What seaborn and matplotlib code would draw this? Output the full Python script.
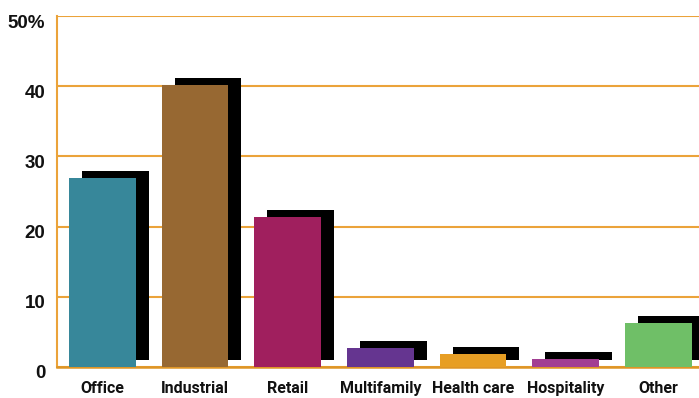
import matplotlib
matplotlib.use("Agg")
import matplotlib.pyplot as plt
import matplotlib.patheffects as pe
from matplotlib.transforms import ScaledTranslation
import pandas as pd
import seaborn as sns

# Share of transaction volume by property type (%)
categories = ["Office", "Industrial", "Retail", "Multifamily", "Health care", "Hospitality", "Other"]
shares = [26.9, 40.1, 21.3, 2.7, 1.9, 1.1, 6.2]
bar_colors = ["#37879A", "#976832", "#A01F5E", "#653590", "#E79E24", "#A23E93", "#6FBF67"]
y_ticks = [0, 10, 20, 30, 40, 50]
y_tick_labels = ["0", "10", "20", "30", "40", "50%"]

GRID = "#EBA33A"

sns.set_theme(style="white")
plt.rcParams["font.family"] = ["Liberation Sans", "DejaVu Sans"]

df = pd.DataFrame({"type": categories, "share": shares})

fig = plt.figure(figsize=(6.99, 3.98), dpi=100)
ax = fig.add_axes([57 / 699, 31 / 398, 1 - 57 / 699, 351 / 398])

sns.barplot(data=df, x="type", y="share", hue="type", palette=bar_colors,
            order=categories, hue_order=categories, legend=False,
            width=0.72, saturation=1, ax=ax, zorder=3)

# offset black block behind each bar (13 px right, 7 px up)
px = 72 / fig.dpi
for bar in ax.patches:
    bar.set_edgecolor("none")
    bar.set_path_effects([
        pe.SimplePatchShadow(offset=(13 * px, 7 * px), shadow_rgbFace="black", alpha=1.0),
        pe.Normal(),
    ])

ax.set_ylim(0, 50)
ax.set_xlim(-0.49, 6.44)
ax.set_yticks(y_ticks)
ax.set_yticklabels(y_tick_labels, fontsize=13.5, fontweight="bold", color="#111111")
ax.set_xticks(range(len(categories)))
ax.set_xticklabels(categories, fontsize=11.5, fontweight="bold", color="#111111",
                   family=["Roboto", "Liberation Sans", "DejaVu Sans"])
ax.tick_params(axis="y", length=0, pad=8.5)
ax.tick_params(axis="x", length=0, pad=10)
ax.set_xlabel("")
ax.set_ylabel("")

# value labels sit slightly below their grid lines
shift = ScaledTranslation(0, -5 / fig.dpi, fig.dpi_scale_trans)
for lbl in ax.get_yticklabels():
    lbl.set_transform(lbl.get_transform() + shift)

ax.set_axisbelow(True)
ax.yaxis.grid(True, color=GRID, linewidth=1.5)
ax.xaxis.grid(False)
for side in ["top", "right"]:
    ax.spines[side].set_visible(False)
ax.spines["left"].set_color(GRID)
ax.spines["left"].set_linewidth(1.5)
ax.spines["bottom"].set_color("#DE9526")
ax.spines["bottom"].set_linewidth(1.8)

fig.savefig("out.png", dpi=100)
